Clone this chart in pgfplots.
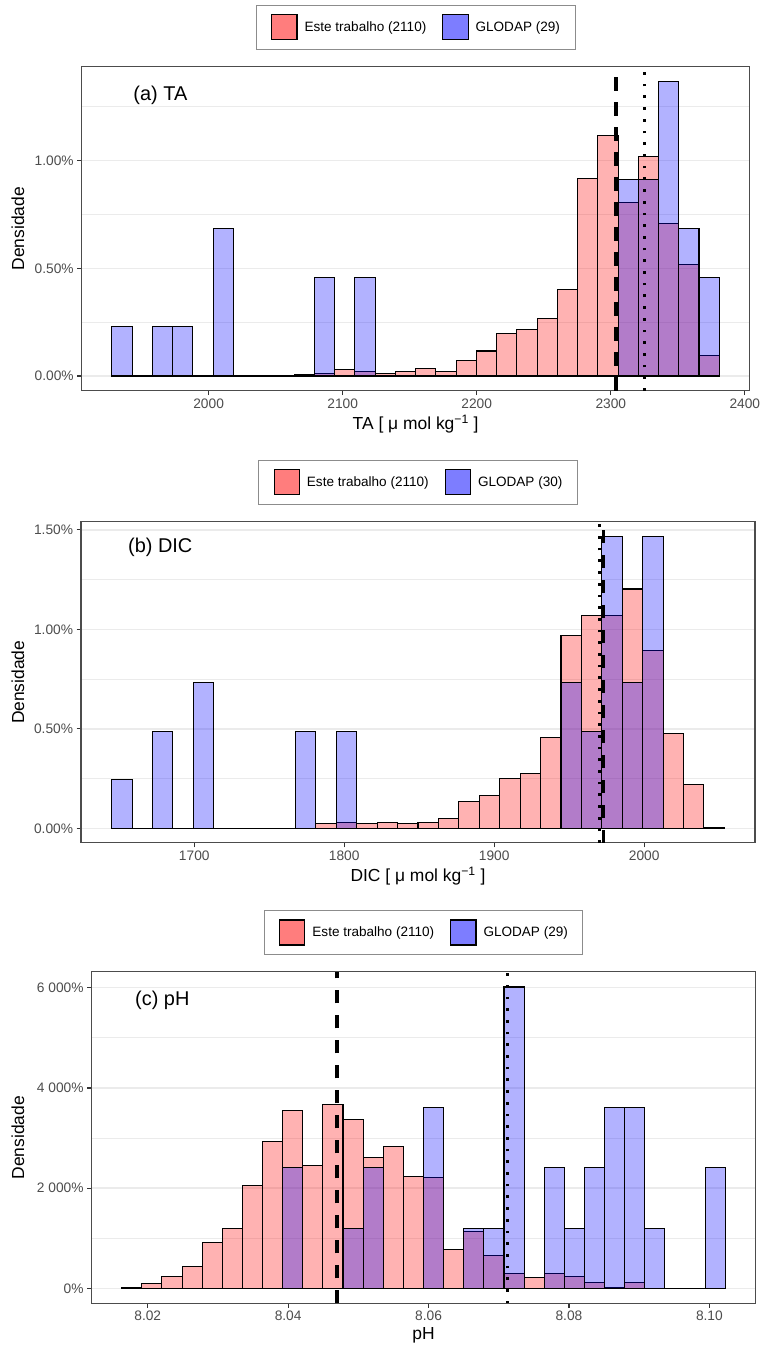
\documentclass[border=0pt]{standalone}
\usepackage{pgfplots}
\pgfplotsset{compat=1.18}
\usepackage{fontspec}
\setmainfont{Liberation Sans}
\definecolor{legpink}{RGB}{255,125,125}
\definecolor{legblue}{RGB}{125,125,255}
\definecolor{gridc}{RGB}{235,235,235}
\definecolor{tickc}{RGB}{77,77,77}

\tikzset{paneltitle/.style={anchor=west, inner sep=0pt, font=\fontsize{20}{22}\selectfont}}
\pgfplotsset{
  histo/.style={
    scale only axis,
    anchor=south west,
    axis line style={draw=black!70, line width=1.1bp},
    tick align=outside,
    tick pos=left,
    major tick length=4.4bp,
    minor tick length=0pt,
    every tick/.style={black!80, line width=1.1bp},
    tick label style={font=\fontsize{13.8}{16}\selectfont, text=tickc},
    ymajorgrids, yminorgrids,
    major grid style={gridc, line width=1.4bp},
    minor grid style={gridc, line width=0.7bp},
    every axis x label/.style={at={(axis description cs:0.5,0)}, anchor=north, yshift=-24bp, inner sep=0pt, font=\fontsize{17.5}{20}\selectfont},
    legend columns=2,
    legend cell align=left,
    legend image code/.code={\draw[#1, line width=1.1bp] (0bp,-12.5bp) rectangle (25.2bp,12.5bp);},
    legend style={at={(0.5,1)}, anchor=south, yshift=17bp, draw=black!45, line width=0.8bp,
      font=\fontsize{13.6}{16}\selectfont, inner xsep=15bp, inner ysep=9bp, nodes={inner sep=0pt},
      /tikz/every odd column/.append style={column sep=7bp},
      /tikz/every even column/.append style={column sep=16bp}},
  },
  pinkbar/.style={ybar interval, fill=red, fill opacity=0.3, draw=black, line width=1.05bp, forget plot},
  bluebar/.style={ybar interval, fill=blue, fill opacity=0.3, draw=black, line width=1.05bp, forget plot},
  dashline/.style={black, line width=3.2bp, dash pattern=on 13.3bp off 11.7bp, forget plot},
  dotline/.style={black, line width=3bp, dash pattern=on 2.7bp off 9bp, forget plot},
}

\begin{document}
\begin{tikzpicture}[x=1bp,y=1bp]
\useasboundingbox (0,0) rectangle (762,-1347);

% ---------------- (a) TA ----------------
\begin{axis}[histo, at={(81.6bp,-390.7bp)}, width=668bp, height=324bp,
  xmin=1905.25, xmax=2403.55, ymin=-0.0684, ymax=1.4364,
  xtick={2000,2100,2200,2300,2400}, xticklabels={2000,2100,2200,2300,2400},
  ytick={0,0.5,1}, yticklabels={0.00\%,0.50\%,1.00\%},
  minor ytick={0.25,0.75,1.25},
  xlabel={TA [ μ mol kg\textsuperscript{−1} ]},
  ylabel={Densidade},
  every axis y label/.style={at={(axis description cs:-0.0952,0.5)}, rotate=90, anchor=center, font=\fontsize{17.5}{20}\selectfont},
]
\addlegendimage{fill=legpink, draw=black}
\addlegendentry{Este trabalho (2110)}
\addlegendimage{fill=legblue, draw=black}
\addlegendentry{GLODAP (29)}
\addplot[pinkbar] coordinates {(1927.9,0) (1943.0,0) (1958.1,0) (1973.2,0) (1988.3,0) (2003.4,0) (2018.5,0) (2033.6,0) (2048.7,0) (2063.8,0.005) (2078.9,0.012) (2094.0,0.028) (2109.1,0.020) (2124.2,0.012) (2139.3,0.023) (2154.4,0.033) (2169.5,0.020) (2184.6,0.074) (2199.7,0.116) (2214.8,0.198) (2229.9,0.214) (2245.0,0.266) (2260.1,0.403) (2275.2,0.915) (2290.3,1.116) (2305.4,0.807) (2320.5,1.019) (2335.6,0.706) (2350.7,0.516) (2365.8,0.094) (2380.9,0)};
\addplot[bluebar] coordinates {(1927.9,0.228) (1943.0,0) (1958.1,0.228) (1973.2,0.228) (1988.3,0) (2003.4,0.684) (2018.5,0) (2033.6,0) (2048.7,0) (2063.8,0) (2078.9,0.456) (2094.0,0) (2109.1,0.456) (2124.2,0) (2139.3,0) (2154.4,0) (2169.5,0) (2184.6,0) (2199.7,0) (2214.8,0) (2229.9,0) (2245.0,0) (2260.1,0) (2275.2,0) (2290.3,0) (2305.4,0.912) (2320.5,0.912) (2335.6,1.368) (2350.7,0.684) (2365.8,0.456) (2380.9,0)};
\addplot[dashline] coordinates {(2303.9,-0.0684) (2303.9,1.4364)};
\addplot[dotline] coordinates {(2325.0,-0.0684) (2325.0,1.4364)};
\node[paneltitle] at (rel axis cs:0.0774,0.9127) {(a) TA};
\end{axis}

% ---------------- (b) DIC ----------------
\begin{axis}[histo, at={(81bp,-842.9bp)}, width=674bp, height=321.2bp,
  xmin=1624.47, xmax=2073.93, ymin=-0.0734, ymax=1.5414,
  xtick={1700,1800,1900,2000}, xticklabels={1700,1800,1900,2000},
  ytick={0,0.5,1,1.5}, yticklabels={0.00\%,0.50\%,1.00\%,1.50\%},
  minor ytick={0.25,0.75,1.25},
  xlabel={DIC [ μ mol kg\textsuperscript{−1} ]},
  ylabel={Densidade},
  every axis y label/.style={at={(axis description cs:-0.0935,0.5)}, rotate=90, anchor=center, font=\fontsize{17.5}{20}\selectfont},
]
\addlegendimage{fill=legpink, draw=black}
\addlegendentry{Este trabalho (2110)}
\addlegendimage{fill=legblue, draw=black}
\addlegendentry{GLODAP (30)}
\addplot[pinkbar] coordinates {(1644.9,0) (1658.52,0) (1672.14,0) (1685.76,0) (1699.38,0) (1713.0,0) (1726.62,0) (1740.24,0) (1753.86,0) (1767.48,0) (1781.1,0.025) (1794.72,0.028) (1808.34,0.022) (1821.96,0.028) (1835.58,0.025) (1849.2,0.030) (1862.82,0.050) (1876.44,0.137) (1890.06,0.167) (1903.68,0.251) (1917.3,0.276) (1930.92,0.457) (1944.54,0.967) (1958.16,1.072) (1971.78,1.072) (1985.4,1.203) (1999.02,0.896) (2012.64,0.478) (2026.26,0.218) (2039.88,0.005) (2053.5,0)};
\addplot[bluebar] coordinates {(1644.9,0.245) (1658.52,0) (1672.14,0.489) (1685.76,0) (1699.38,0.734) (1713.0,0) (1726.62,0) (1740.24,0) (1753.86,0) (1767.48,0.489) (1781.1,0) (1794.72,0.489) (1808.34,0) (1821.96,0) (1835.58,0) (1849.2,0) (1862.82,0) (1876.44,0) (1890.06,0) (1903.68,0) (1917.3,0) (1930.92,0) (1944.54,0.734) (1958.16,0.489) (1971.78,1.468) (1985.4,0.734) (1999.02,1.468) (2012.64,0) (2026.26,0) (2039.88,0) (2053.5,0)};
\addplot[dashline] coordinates {(1972.8,-0.0734) (1972.8,1.5414)};
\addplot[dotline] coordinates {(1969.9,-0.0734) (1969.9,1.5414)};
\node[paneltitle] at (rel axis cs:0.0697,0.921) {(b) DIC};
\end{axis}

% ---------------- (c) pH ----------------
\begin{axis}[histo, at={(91.5bp,-1303.4bp)}, width=664bp, height=331.5bp,
  xmin=8.01199, xmax=8.10657, ymin=-300.75, ymax=6315.75,
  xtick={8.02,8.04,8.06,8.08,8.10}, xticklabels={8.02,8.04,8.06,8.08,8.10},
  ytick={0,2000,4000,6000}, yticklabels={0\%,2 000\%,4 000\%,6 000\%},
  minor ytick={1000,3000,5000},
  xlabel={pH},
  ylabel={Densidade},
  every axis y label/.style={at={(axis description cs:-0.1107,0.5)}, rotate=90, anchor=center, font=\fontsize{17.5}{20}\selectfont},
]
\addlegendimage{fill=legpink, draw=black}
\addlegendentry{Este trabalho (2110)}
\addlegendimage{fill=legblue, draw=black}
\addlegendentry{GLODAP (29)}
\addplot[pinkbar] coordinates {(8.016290,20) (8.019156,100) (8.022022,233) (8.024888,445) (8.027754,918) (8.030620,1198) (8.033486,2048) (8.036352,2926) (8.039218,3553) (8.042084,2447) (8.044950,3673) (8.047816,3379) (8.050682,2621) (8.053548,2827) (8.056414,2242) (8.059280,2216) (8.062146,778) (8.065012,1130) (8.067878,665) (8.070744,299) (8.073610,220) (8.076476,299) (8.079342,245) (8.082208,120) (8.085074,10) (8.087940,120) (8.090806,0) (8.093672,0) (8.096538,0) (8.099404,0) (8.102270,0)};
\addplot[bluebar] coordinates {(8.016290,0) (8.019156,0) (8.022022,0) (8.024888,0) (8.027754,0) (8.030620,0) (8.033486,0) (8.036352,0) (8.039218,2406) (8.042084,0) (8.044950,0) (8.047816,1203) (8.050682,2406) (8.053548,0) (8.056414,0) (8.059280,3609) (8.062146,0) (8.065012,1203) (8.067878,1203) (8.070744,6015) (8.073610,0) (8.076476,2406) (8.079342,1203) (8.082208,2406) (8.085074,3609) (8.087940,3609) (8.090806,1203) (8.093672,0) (8.096538,0) (8.099404,2406) (8.102270,0)};
\addplot[dashline] coordinates {(8.04695,-300.75) (8.04695,6315.75)};
\addplot[dotline] coordinates {(8.07125,-300.75) (8.07125,6315.75)};
\node[paneltitle] at (rel axis cs:0.0655,0.915) {(c) pH};
\end{axis}
\end{tikzpicture}
\end{document}
